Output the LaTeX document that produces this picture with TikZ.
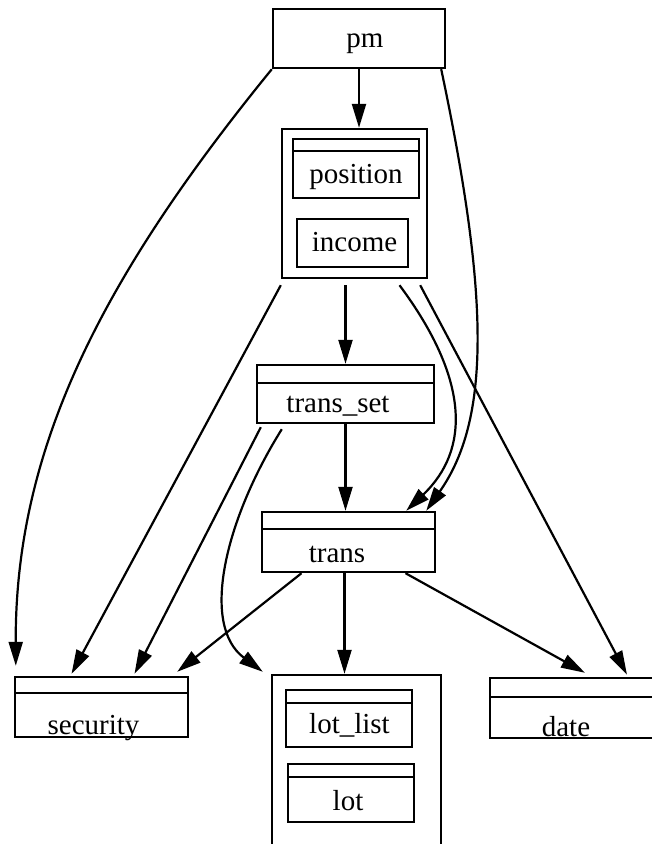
\documentclass[tikz,border=0pt]{standalone}
\usepackage{fontspec}
\setmainfont{Liberation Serif}
\usetikzlibrary{arrows.meta}
\tikzset{
    box/.style = {rectangle, draw, line width=2.4pt, inner sep=0pt},
    record/.style = {box, path picture={\draw[line width=2.4pt] ([yshift=-#1]path picture bounding box.north west) -- ([yshift=-#1]path picture bounding box.north east);}},
    record/.default = 15pt,
    txt/.style = {inner sep=0pt, text height=0pt, text depth=0pt, font=\fontsize{29}{31}\selectfont},
    arrow/.style = {line width=2.2pt, -{Triangle[length=24pt,width=14pt]}}
}
\begin{document}
\begin{tikzpicture}[x=1pt, y=-1pt]
        \useasboundingbox (0,0) rectangle (652,844);

        % Nodes
        \node [box, minimum width=172, minimum height=59, label={[txt, xshift=6pt, yshift=-8.5pt]center:pm}] (pm) at (359,38.5) {};
        \node [box, minimum width=145, minimum height=149] (posgroup) at (354.5,203.5) {};
        \node [record=12pt, minimum width=126, minimum height=59, label={[txt, yshift=-14.5pt]center:position}] (position) at (356,168.5) {};
        \node [box, minimum width=111, minimum height=48, label={[txt, xshift=2pt, yshift=-8pt]center:income}] (income) at (352.5,243) {};
        \node [record=18pt, minimum width=177, minimum height=58, label={[txt, xshift=-7.5pt, yshift=-18pt]center:trans\_set}] (transset) at (345.5,394) {};
        \node [record=17pt, minimum width=173, minimum height=60, label={[txt, xshift=-11.5pt, yshift=-20pt]center:trans}] (trans) at (348.5,542) {};
        \node [record=16pt, minimum width=173, minimum height=60, label={[txt, xshift=-8pt, yshift=-27pt]center:security}] (security) at (101.5,707) {};
        \node [box, minimum width=169, minimum height=185] (lotgroup) at (356.5,767.5) {};
        \node [record=13pt, minimum width=126, minimum height=57, label={[txt, xshift=0.5pt, yshift=-14.5pt]center:lot\_list}] (lotlist) at (349,718.5) {};
        \node [record=13pt, minimum width=126, minimum height=58, label={[txt, xshift=-3pt, yshift=-17pt]center:lot}] (lot) at (351,793) {};
        \node [record=19pt, minimum width=172, minimum height=60, label={[txt, xshift=-10pt, yshift=-28pt]center:date}] (date) at (576,708) {};

        % Edges
        \draw [arrow] (pm.south) -- (pm.south |- posgroup.north);
        \draw [arrow] (pm.south west) .. controls (100,280) and (15,450) .. ([xshift=2pt, yshift=10pt]security.north west);
        \draw [arrow] ([xshift=-5pt]pm.south east) .. controls (490,300) and (490,420) .. ([xshift=-10pt]trans.north east);
        \draw [arrow] ([yshift=-6pt]transset.north |- posgroup.south) -- (transset.north);
        \draw [arrow] ([yshift=-6pt]posgroup.south west) -- ([xshift=-30pt, yshift=2pt]security.north);
        \draw [arrow] ([xshift=45pt, yshift=-6pt]posgroup.south) .. controls (470,380) and (470,450) .. ([xshift=-30pt]trans.north east);
        \draw [arrow] ([xshift=-8pt, yshift=-6pt]posgroup.south east) -- ([xshift=51pt, yshift=2pt]date.north);
        \draw [arrow] (transset.south) -- (transset.south |- trans.north);
        \draw [arrow] ([xshift=5pt, yshift=-3pt]transset.south west) -- ([xshift=33pt, yshift=2pt]security.north);
        \draw [arrow] ([xshift=26pt, yshift=-5pt]transset.south west) .. controls (225,520) and (200,625) .. ([xshift=-8pt, yshift=2pt]lotgroup.north west);
        \draw [arrow] ([xshift=-47pt]trans.south) -- ([xshift=-12pt, yshift=4pt]security.north east);
        \draw [arrow] ([xshift=-4pt]trans.south) -- ([xshift=-4pt]trans.south |- lotgroup.north);
        \draw [arrow] ([xshift=57pt]trans.south) -- ([xshift=9pt, yshift=4pt]date.north);

    \end{tikzpicture}
\end{document}
